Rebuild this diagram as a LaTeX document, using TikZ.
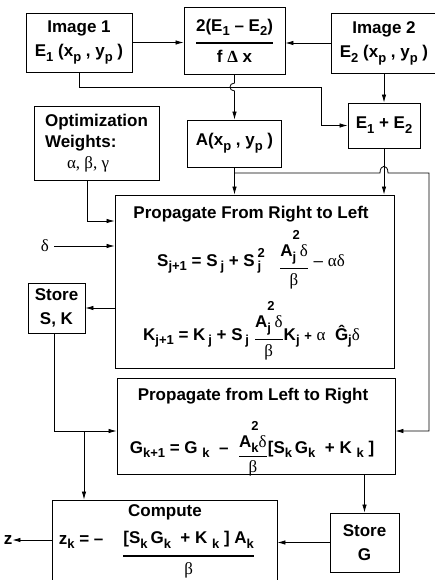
\documentclass[tikz,border=0pt]{standalone}
\usepackage{fontspec}
\usepackage{amsmath}
\setmainfont{Liberation Sans}
\newfontfamily\gr{Liberation Serif}
\usetikzlibrary{arrows.meta,calc}

\newcommand\scr{\fontsize{13}{13}\selectfont}
\newcommand\lo[1]{\raisebox{-0.55ex}{\scr #1}}
\newcommand\hilo[2]{\makebox[0pt][l]{\raisebox{-0.55ex}{\scr #1}}\raisebox{0.9ex}{\scr #2}}
\newcommand\hiloA[2]{\makebox[0pt][l]{\raisebox{-0.55ex}{\scr #1}}\raisebox{1.9ex}{\scr #2}}
\newcommand\fr[4][0pt]{\raisebox{#1}{$\genfrac{}{}{#2}{0}{\hbox{#3}}{\hbox{#4}}$}}

\begin{document}
\begin{tikzpicture}[x=1pt,y=-1pt,
  every node/.style={font=\fontsize{17}{24}\selectfont\bfseries},
  box/.style={draw, line width=0.9pt, inner sep=0pt, align=center},
  txt/.style={inner sep=0pt},
  arr/.style={line width=0.8pt, -{Latex[length=8pt,width=4.5pt]}}]
\useasboundingbox (0,0) rectangle (435,580);

% boxes
\node[box, minimum width=106pt, minimum height=59pt] (img1) at (79,42.5)
  {Image 1\\E\lo{1} (x\lo{p} , y\lo{p} )};
\node[box, minimum width=101pt, minimum height=67pt] (frac) at (234.5,40.5)
  {\fr{2pt}{2(E\lo{1} -- E\lo{2})}{f {\gr Δ} x}};
\node[box, minimum width=106pt, minimum height=60pt] (img2) at (384,43)
  {Image 2\\E\lo{2} (x\lo{p} , y\lo{p} )\hspace{4pt}};
\node[box, minimum width=72pt, minimum height=45pt] (sum) at (384,125.5)
  {E\lo{1} + E\lo{2}};
\node[box, minimum width=94pt, minimum height=47pt] (A) at (234.5,143.5)
  {A(x\lo{p} , y\lo{p} )};
\node[box, minimum width=125pt, minimum height=74pt, align=left, font=\fontsize{17}{21}\selectfont\bfseries] (opt) at (96.5,143)
  {Optimization\\Weights:\\\hspace{22pt}{\gr\mdseries α, β, γ}};
\node[box, minimum width=279pt, minimum height=173pt] (prl) at (254.5,281.5) {};
\node[box, minimum width=57pt, minimum height=50pt] (ssk) at (56.5,308)
  {Store\\S, K};
\node[box, minimum width=278pt, minimum height=96pt] (plr) at (256,426) {};
\node[box, minimum width=225pt, minimum height=82pt] (comp) at (164.5,541) {};
\node[box, minimum width=69pt, minimum height=59pt] (sg) at (364.5,542.5)
  {Store\\G};

% texts inside large boxes
\node[txt] (prlT) at (251,214) {Propagate From Right to Left};
\node[txt, anchor=base] (prlF1) at (251,266)
  {S\lo{j+1} = S\,\lo{j} + S\,\hilo{j}{2}\ \ \ \fr[-7pt]{1.3pt}{A\hiloA{j}{2}{\gr\mdseries δ}}{{\gr\mdseries β}}\ {\mdseries --} {\gr\mdseries αδ}};
\node[txt, anchor=base] (prlF2) at (251.5,340)
  {K\lo{j+1} = K\,\lo{j} + S\,\lo{j} \fr[-4pt]{1.3pt}{A\hiloA{j}{2}{\gr\mdseries δ}}{{\gr\mdseries β}}K\lo{j} {\scr +} {\gr\mdseries α}\ \ \^G\lo{j}{\gr\mdseries δ}};
\node[txt] (plrT) at (253,396) {Propagate from Left to Right};
\node[txt, anchor=base] (plrF) at (252,453)
  {G\lo{k+1} = G\ \lo{k} \ --\ \ \fr[-8pt]{1.2pt}{A\hiloA{k}{2}{\gr\mdseries δ}}{{\gr\mdseries β}}[S\lo{k}\,G\lo{k} \ + K\ \lo{k} ]};
\node[txt] (compT) at (165,512) {Compute};
\node[txt, anchor=base] (compF) at (157,544)
  {z\lo{k} = -- \ \ \ \fr[-16pt]{2pt}{[S\lo{k}\,G\lo{k} \ + K\ \lo{k} ] A\lo{k}}{{\gr\mdseries β}}};

% outside labels
\node[txt] (delta) at (45,246) {\gr\mdseries δ};
\node[txt] (z) at (8,540) {z};

% helper coordinates
\coordinate (c1) at (321,87);
\coordinate (c2) at (234.5,173);
\coordinate (c3) at (429,173);
\coordinate (c4) at (84,431);
\coordinate (h1) at (frac.south |- c1);
\coordinate (h2) at (sum.south |- c2);

% connectors
\draw[arr] (img1.east) -- (frac.west |- img1.east);
\draw[arr] (img2.west) -- (frac.east |- img2.west);
\draw[arr] (img1.south) |- (c1) |- (sum.west);
\draw[arr] (frac.south) -- ($(h1)+(0,-4)$) .. controls ($(h1)+(-6,-4)$) and ($(h1)+(-6,4)$) .. ($(h1)+(0,4)$) -- (A.north);
\draw[arr] (img2.south -| sum.north) -- (sum.north);
\draw[arr] (sum.south) -- (sum.south |- prl.north);
\draw[arr] (A.south) -- (A.south |- prl.north);
\draw[arr] (c2) -- ($(h2)+(-4,0)$) .. controls ($(h2)+(-4,-9)$) and ($(h2)+(4,-9)$) .. ($(h2)+(4,0)$) -- (c3) |- (plr.east |- c4);
\draw[arr] ($(opt.south)+(-9.5,0)$) |- (prl.west |- 0,221);
\draw[arr] (delta.east) ++(5,0) -- (prl.west |- delta.east);
\draw[arr] (prl.west |- ssk.east) -- (ssk.east);
\draw[arr] ($(ssk.south)+(-2.5,0)$) |- (plr.west |- c4);
\draw[arr] (c4) -- (comp.north -| c4);
\draw[arr] (plr.south -| sg.north) -- (sg.north);
\draw[arr] (sg.west) -- (comp.east |- sg.west);
\draw[arr] (comp.west |- z.east) -- (z.east);
\end{tikzpicture}
\end{document}
